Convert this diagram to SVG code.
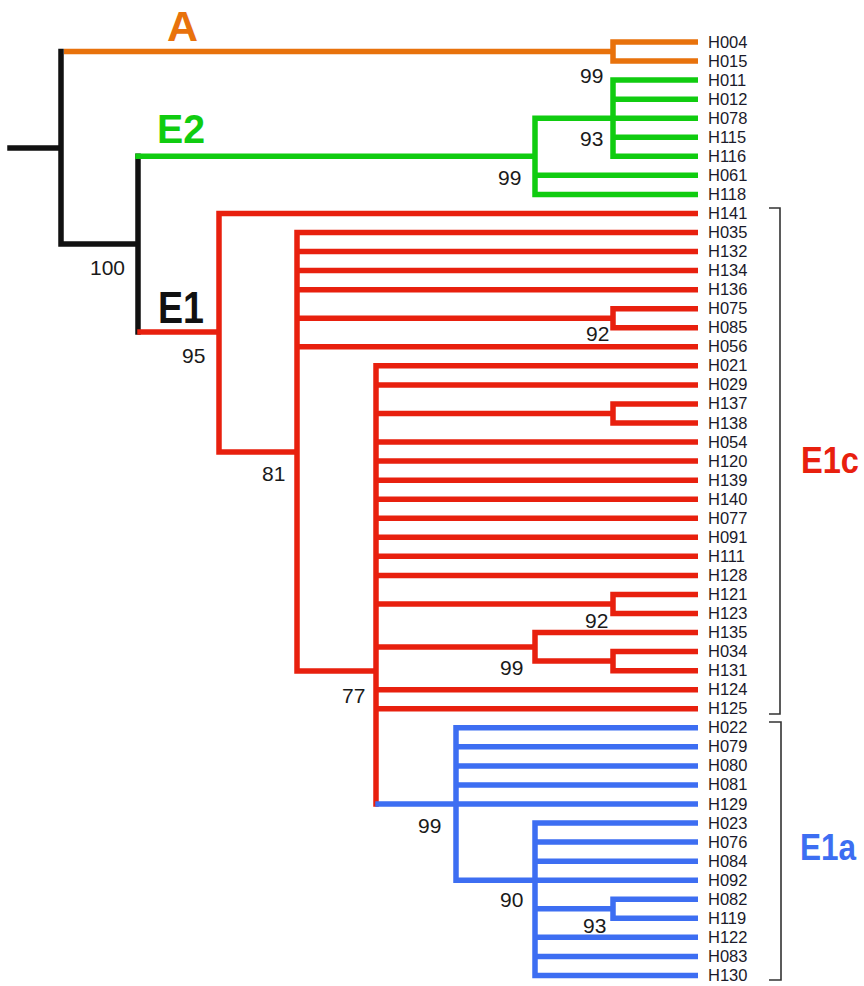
<svg xmlns="http://www.w3.org/2000/svg" width="864" height="986" viewBox="0 0 864 986">
  <style>
    .br { fill: none; stroke-width: 5.5; stroke-linecap: square; stroke-linejoin: miter; }
    .k { stroke: #111111; }
    .o { stroke: #E8720C; }
    .g { stroke: #10CC10; }
    .r { stroke: #E8200E; }
    .b { stroke: #3D6EF2; }
    .leaf { font-family: "Liberation Sans", Arial, sans-serif; font-size: 16.5px; fill: #1a1a2a; }
    .bs { font-family: "Liberation Sans", Arial, sans-serif; font-size: 21px; fill: #1a1a1a; }
    .clade { font-family: "Liberation Sans", Arial, sans-serif; font-weight: bold; }
    .brk { fill: none; stroke: #333333; stroke-width: 1.6; }
  </style>

  <!-- branches -->
  <g id="connectors">
    <!-- clade A -->
    <path class="br o" d="M66.75 51.5 H613 M613 42 V61.05 M613 42 H695.25 M613 61.05 H695.25"/>

    <!-- root and backbone -->
    <path class="br k" d="M10 148 H61 M61 51.5 V244 M61 244 H138 M138 156.3 V332"/>

    <!-- clade E2 -->
    <path class="br g" d="M138 156.3 H535 M535 118.2 V194.4 M535 118.2 H613 M613 80.1 V156.3
      M613 80.1 H695.25 M613 99.15 H695.25 M613 118.2 H695.25 M613 137.25 H695.25 M613 156.3 H695.25
      M535 175.35 H695.25 M535 194.4 H695.25"/>

    <!-- clade E1 / E1c -->
    <path class="br r" d="M140 332 H219 M219 213.45 V452 M219 213.45 H695.25 M219 452 H297 M297 232.5 V671
      M297 232.5 H695.25 M297 251.55 H695.25 M297 270.6 H695.25 M297 289.65 H695.25 M297 346.8 H695.25
      M297 318.2 H613 M613 308.7 V327.75 M613 308.7 H695.25 M613 327.75 H695.25
      M297 671 H376 M376 365.85 V804
      M376 365.85 H695.25 M376 384.9 H695.25
      M376 413.5 H613 M613 403.95 V423 M613 403.95 H695.25 M613 423 H695.25
      M376 442.05 H695.25 M376 461.1 H695.25 M376 480.15 H695.25 M376 499.2 H695.25
      M376 518.25 H695.25 M376 537.3 H695.25 M376 556.35 H695.25 M376 575.4 H695.25
      M376 604 H613 M613 594.45 V613.5 M613 594.45 H695.25 M613 613.5 H695.25
      M376 647.1 H535 M535 632.55 V661.1 M535 632.55 H695.25 M535 661.1 H613
      M613 651.6 V670.65 M613 651.6 H695.25 M613 670.65 H695.25
      M376 689.7 H695.25 M376 708.75 H695.25"/>

    <!-- clade E1a -->
    <path class="br b" d="M378 804 H695.25 M456 727.8 V880.2
      M456 727.8 H695.25 M456 746.85 H695.25 M456 765.9 H695.25 M456 784.95 H695.25 M456 880.2 H695.25
      M535 823.05 V975.45
      M535 823.05 H695.25 M535 842.1 H695.25 M535 861.15 H695.25
      M535 908.8 H613 M613 899.25 V918.3 M613 899.25 H695.25 M613 918.3 H695.25
      M535 937.35 H695.25 M535 956.4 H695.25 M535 975.45 H695.25"/>
  </g>

  <!-- internal nodes with support values -->
  <g id="node-A"><text class="bs" x="580" y="83">99</text></g>
  <g id="node-E2-sub"><text class="bs" x="580" y="146">93</text></g>
  <g id="node-E2"><text class="bs" x="498" y="185">99</text></g>
  <g id="node-E"><text class="bs" x="90" y="275">100</text></g>
  <g id="node-E1"><text class="bs" x="182" y="363">95</text></g>
  <g id="node-H075-H085"><text class="bs" x="586" y="341">92</text></g>
  <g id="node-81"><text class="bs" x="262" y="481">81</text></g>
  <g id="node-H121-H123"><text class="bs" x="585" y="628">92</text></g>
  <g id="node-H135"><text class="bs" x="500" y="675">99</text></g>
  <g id="node-77"><text class="bs" x="342" y="703">77</text></g>
  <g id="node-E1a"><text class="bs" x="418" y="833">99</text></g>
  <g id="node-90"><text class="bs" x="500" y="907">90</text></g>
  <g id="node-H082-H119"><text class="bs" x="583" y="933">93</text></g>

  <!-- clade names -->
  <g id="label-A"><text class="clade" x="167" y="41" font-size="43" fill="#E8720C">A</text></g>
  <g id="label-E2"><text class="clade" x="157" y="143" font-size="41" fill="#10CC10" textLength="48" lengthAdjust="spacingAndGlyphs">E2</text></g>
  <g id="label-E1"><text class="clade" x="158" y="323" font-size="44" fill="#111111" textLength="46" lengthAdjust="spacingAndGlyphs">E1</text></g>
  <g id="label-E1c"><text class="clade" x="801" y="473" font-size="36" fill="#E8200E" textLength="58" lengthAdjust="spacingAndGlyphs">E1c</text></g>
  <g id="label-E1a"><text class="clade" x="800" y="860" font-size="37" fill="#3D6EF2" textLength="56" lengthAdjust="spacingAndGlyphs">E1a</text></g>

  <!-- brackets -->
  <g id="bracket-E1c"><path class="brk" d="M769 208 H780 V714 H769"/></g>
  <g id="bracket-E1a"><path class="brk" d="M769 722 H781 V980 H769"/></g>

  <!-- leaves -->
  <g id="leaves" class="leaf">
    <g id="H004"><text x="708" y="47.5">H004</text></g>
    <g id="H015"><text x="708" y="66.5">H015</text></g>
    <g id="H011"><text x="708" y="85.6">H011</text></g>
    <g id="H012"><text x="708" y="104.6">H012</text></g>
    <g id="H078"><text x="708" y="123.7">H078</text></g>
    <g id="H115"><text x="708" y="142.7">H115</text></g>
    <g id="H116"><text x="708" y="161.8">H116</text></g>
    <g id="H061"><text x="708" y="180.8">H061</text></g>
    <g id="H118"><text x="708" y="199.9">H118</text></g>
    <g id="H141"><text x="708" y="218.9">H141</text></g>
    <g id="H035"><text x="708" y="238">H035</text></g>
    <g id="H132"><text x="708" y="257">H132</text></g>
    <g id="H134"><text x="708" y="276.1">H134</text></g>
    <g id="H136"><text x="708" y="295.1">H136</text></g>
    <g id="H075"><text x="708" y="314.2">H075</text></g>
    <g id="H085"><text x="708" y="333.2">H085</text></g>
    <g id="H056"><text x="708" y="352.3">H056</text></g>
    <g id="H021"><text x="708" y="371.3">H021</text></g>
    <g id="H029"><text x="708" y="390.4">H029</text></g>
    <g id="H137"><text x="708" y="409.4">H137</text></g>
    <g id="H138"><text x="708" y="428.5">H138</text></g>
    <g id="H054"><text x="708" y="447.5">H054</text></g>
    <g id="H120"><text x="708" y="466.6">H120</text></g>
    <g id="H139"><text x="708" y="485.6">H139</text></g>
    <g id="H140"><text x="708" y="504.7">H140</text></g>
    <g id="H077"><text x="708" y="523.7">H077</text></g>
    <g id="H091"><text x="708" y="542.8">H091</text></g>
    <g id="H111"><text x="708" y="561.8">H111</text></g>
    <g id="H128"><text x="708" y="580.9">H128</text></g>
    <g id="H121"><text x="708" y="599.9">H121</text></g>
    <g id="H123"><text x="708" y="619">H123</text></g>
    <g id="H135"><text x="708" y="638">H135</text></g>
    <g id="H034"><text x="708" y="657.1">H034</text></g>
    <g id="H131"><text x="708" y="676.1">H131</text></g>
    <g id="H124"><text x="708" y="695.2">H124</text></g>
    <g id="H125"><text x="708" y="714.2">H125</text></g>
    <g id="H022"><text x="708" y="733.3">H022</text></g>
    <g id="H079"><text x="708" y="752.3">H079</text></g>
    <g id="H080"><text x="708" y="771.4">H080</text></g>
    <g id="H081"><text x="708" y="790.4">H081</text></g>
    <g id="H129"><text x="708" y="809.5">H129</text></g>
    <g id="H023"><text x="708" y="828.5">H023</text></g>
    <g id="H076"><text x="708" y="847.6">H076</text></g>
    <g id="H084"><text x="708" y="866.6">H084</text></g>
    <g id="H092"><text x="708" y="885.7">H092</text></g>
    <g id="H082"><text x="708" y="904.7">H082</text></g>
    <g id="H119"><text x="708" y="923.8">H119</text></g>
    <g id="H122"><text x="708" y="942.8">H122</text></g>
    <g id="H083"><text x="708" y="961.9">H083</text></g>
    <g id="H130"><text x="708" y="980.9">H130</text></g>
  </g>
</svg>
